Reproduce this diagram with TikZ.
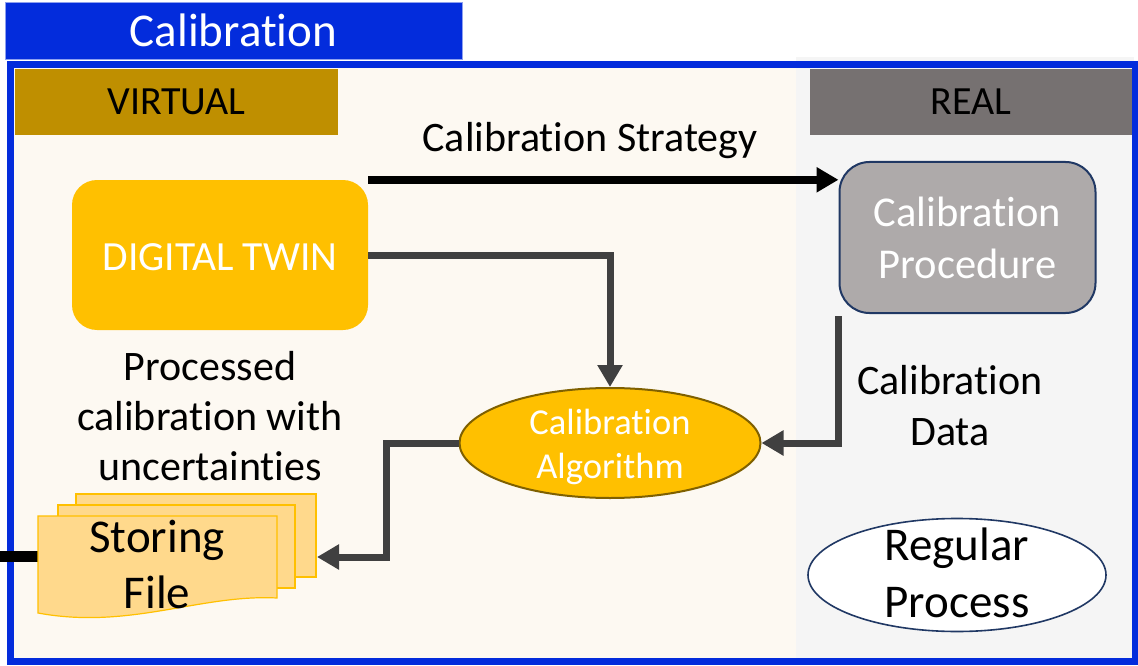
\documentclass[tikz,border=0pt]{standalone}
\usepackage{fontspec}
\setmainfont{Carlito}[Ligatures=NoCommon]
\usetikzlibrary{arrows.meta,shapes.geometric}
% keep "t" and "i" as separate glyphs in the word
\newcommand\calword{Calibrat\kern0pt ion}
\definecolor{frameblue}{RGB}{3,44,220}
\definecolor{virtbg}{RGB}{253,249,242}
\definecolor{realbg}{RGB}{245,245,245}
\definecolor{virthead}{HTML}{BF8F00}
\definecolor{realhead}{HTML}{767171}
\definecolor{twin}{HTML}{FFC000}
\definecolor{procfill}{HTML}{AEAAAA}
\definecolor{navy}{HTML}{203864}
\definecolor{olive}{HTML}{7F6000}
\definecolor{darkline}{HTML}{404040}
\definecolor{pagefill}{HTML}{FFD98C}
\definecolor{pageedge}{HTML}{FFC000}
\tikzset{
  header/.style={fill=#1, inner sep=0pt, font=\fontsize{40}{48}\selectfont},
  page/.style={fill=pagefill, draw=pageedge, line width=1.2pt, inner sep=0pt},
  blackarrow/.style={line width=8pt, -{Triangle[length=22pt,width=24pt]}},
  greyarrow/.style={draw=darkline, line width=7pt, -{Triangle[length=22pt,width=24pt]}},
  txt/.style={align=center, inner sep=0pt}
}
\begin{document}
\begin{tikzpicture}[x=1pt,y=-1pt]
\useasboundingbox (0,0) rectangle (1138,666);

% panel backgrounds
\fill[realbg] (796,57) rectangle (1134,661);
\fill[virtbg] (10,64) rectangle (796,661);
\draw[frameblue, line width=7pt] (10.5,64.5) rectangle (1135,661);

% title tab
\node[fill=frameblue, draw=frameblue!45, line width=0.8pt, minimum width=457pt, minimum height=57pt,
      inner sep=0pt, text=white, font=\fontsize{47}{54}\selectfont] (title) at (233.5,30.5) {\calword};

% column headers
\node[header=virthead, minimum width=323pt, minimum height=66pt] (virtual) at (176.5,102) {VIRTUAL};
\node[header=realhead, minimum width=322pt, minimum height=66pt] (real) at (971,102) {REAL};

% main blocks
\node[fill=twin, rounded corners=25pt, minimum width=296pt, minimum height=150pt, inner sep=0pt] (dt) at (220,255) {};
\node[txt, text=white, font=\fontsize{41.5}{50}\selectfont] (dttxt) at (220,257) {DIGITAL TWIN};
\node[fill=procfill, draw=navy, line width=2pt, rounded corners=30pt, minimum width=256pt, minimum height=151pt,
      inner sep=0pt, text=white, align=center, font=\fontsize{42.5}{52}\selectfont] (proc) at (967.5,237.5) {\calword\\Procedure};
\node[ellipse, fill=twin, draw=olive, line width=2pt, minimum width=301pt, minimum height=110pt, inner sep=0pt] (alg) at (610,443) {};
\node[txt, text=white, font=\fontsize{36.5}{44}\selectfont] (algtxt) at (610,447) {\calword\\Algorithm};
\node[ellipse, fill=white, draw=navy, line width=1.6pt, minimum width=298pt, minimum height=113pt, inner sep=0pt] (reg) at (957,575) {};
\node[txt, font=\fontsize{47}{57}\selectfont] (regtxt) at (957,572.5) {Regular\\Process};

% labels
\node[txt, anchor=base, font=\fontsize{42}{50}\selectfont] (strat) at (590,152) {\calword{} Strategy};
\node[txt, font=\fontsize{42}{51}\selectfont] (cdata) at (950,406) {\calword\\Data};
\node[txt, font=\fontsize{42}{50}\selectfont] (proc2) at (210,416) {Processed\\calibrat\kern0pt ion with\\uncertaint\kern0pt ies};

% storage stack
\coordinate (ext) at (0,556);
\coordinate (fileleft) at (38,556);
\coordinate (filein) at (317,557);
\draw[line width=11pt] (ext) -- (fileleft);
\node[page, minimum width=240pt, minimum height=83pt] (p3) at (196,535.5) {};
\node[page, minimum width=237pt, minimum height=83pt] (p2) at (176.5,546.5) {};
\filldraw[fill=pagefill, draw=pageedge, line width=1.2pt]
  (38,516) -- (277,516) -- (277,598) .. controls (200,594) and (130,630) .. (38,613) -- cycle;
\node[txt, font=\fontsize{47}{56}\selectfont] (store) at (157,564) {Storing\\File};

% connectors
\draw[blackarrow] (dt.north east) -- (dt.north east -| proc.west);
\draw[greyarrow] (dt.east) -| (alg.north);
\draw[greyarrow] ([yshift=-2pt]proc.south west) |- (alg.east);
\draw[greyarrow] (alg.west) -- ++(-72,0) |- (filein);
\end{tikzpicture}
\end{document}
